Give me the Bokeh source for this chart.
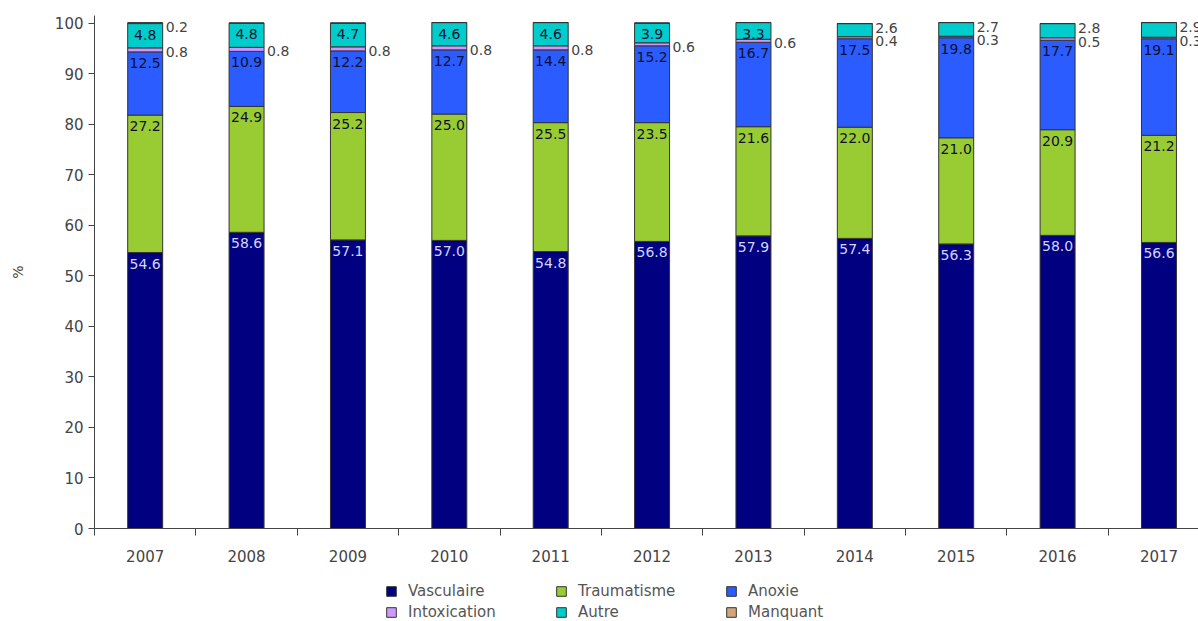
from bokeh.plotting import figure
from bokeh.layouts import column
from bokeh.models import (ColumnDataSource, Range1d, FixedTicker, Legend, LegendItem)
from bokeh.core.properties import value
from bokeh.embed import file_html
from bokeh.resources import INLINE

years = ["2007", "2008", "2009", "2010", "2011", "2012", "2013", "2014", "2015", "2016", "2017"]
vasculaire = [54.6, 58.6, 57.1, 57.0, 54.8, 56.8, 57.9, 57.4, 56.3, 58.0, 56.6]
traumatisme = [27.2, 24.9, 25.2, 25.0, 25.5, 23.5, 21.6, 22.0, 21.0, 20.9, 21.2]
anoxie = [12.5, 10.9, 12.2, 12.7, 14.4, 15.2, 16.7, 17.5, 19.8, 17.7, 19.1]
intoxication = [0.8, 0.8, 0.8, 0.8, 0.8, 0.6, 0.6, 0.4, 0.3, 0.5, 0.3]
autre = [4.8, 4.8, 4.7, 4.6, 4.6, 3.9, 3.3, 2.6, 2.7, 2.8, 2.9]
manquant = [0.2, 0.0, 0.0, 0.0, 0.0, 0.0, 0.0, 0.0, 0.0, 0.0, 0.0]

series_names = ["Vasculaire", "Traumatisme", "Anoxie", "Intoxication", "Autre", "Manquant"]
series_vals = [vasculaire, traumatisme, anoxie, intoxication, autre, manquant]
colors = ["#000080", "#99cc33", "#2a5cff", "#cc99ff", "#00cccc", "#d2a679"]

FONT = "DejaVu Sans"
BAR_W = 0.345

xs = [i + 0.5 for i in range(len(years))]
data = {"x": xs}
for n, v in zip(series_names, series_vals):
    data[n] = v
src = ColumnDataSource(data)

p = figure(width=1198, height=568, output_backend="svg", toolbar_location=None,
           x_range=Range1d(0, 10.89), y_range=Range1d(0, 101.5),
           min_border_left=94, min_border_right=0, min_border_top=15, min_border_bottom=40)
p.outline_line_color = None
p.grid.visible = False
p.background_fill_color = "white"

renderers = p.vbar_stack(series_names, x="x", width=BAR_W, source=src, color=colors,
                         line_color="#333333", line_width=1)

# labels
in_x, in_y, in_t, in_c = [], [], [], []
out_x, out_y, out_t = [], [], []
for i, xc in enumerate(xs):
    cum = 0.0
    for k, (n, v) in enumerate(zip(series_names, series_vals)):
        top = cum + v[i]
        if v[i] > 0:
            if k in (0, 1, 2) or (k == 4 and v[i] >= 3):
                in_x.append(xc); in_y.append(top); in_t.append(f"{v[i]:.1f}")
                in_c.append("#d4d4ff" if k == 0 else "#101030")
            else:
                out_x.append(xc + BAR_W / 2); out_y.append(top); out_t.append(f"{v[i]:.1f}")
        cum = top

p.text(x=in_x, y=in_y, text=in_t, text_color=in_c, text_align="center", text_baseline="top",
       y_offset=6, text_font=value(FONT), text_font_size="14px")
p.text(x=out_x, y=out_y, text=out_t, text_color="#444444", text_align="left", text_baseline="top",
       x_offset=3, y_offset=-1, text_font=value(FONT), text_font_size="14px")

# axes
xa = p.xaxis[0]
xa.ticker = FixedTicker(ticks=xs, minor_ticks=list(range(0, 12)))
xa.major_label_overrides = {x: y for x, y in zip(xs, years)}
xa.major_tick_out = 0
xa.major_tick_in = 0
xa.minor_tick_out = 7
xa.minor_tick_in = 0
xa.axis_line_color = "#444444"
xa.minor_tick_line_color = "#444444"
xa.major_label_text_font = FONT
xa.major_label_text_font_size = "15px"
xa.major_label_text_color = "#444444"
xa.major_label_standoff = 14

ya = p.yaxis[0]
ya.ticker = FixedTicker(ticks=list(range(0, 101, 10)))
ya.major_tick_out = 6
ya.major_tick_in = 0
ya.minor_tick_out = 0
ya.minor_tick_in = 0
ya.axis_line_color = "#444444"
ya.major_tick_line_color = "#444444"
ya.major_label_text_font = FONT
ya.major_label_text_font_size = "15px"
ya.major_label_text_color = "#444444"
ya.major_label_standoff = 5
ya.axis_label = "%"
ya.axis_label_text_font = FONT
ya.axis_label_text_font_style = "normal"
ya.axis_label_text_font_size = "14px"
ya.axis_label_text_color = "#444444"
ya.axis_label_standoff = 26

# legend figure below the chart (its frame is aligned with the chart's frame)
pl = figure(width=1198, height=53, output_backend="svg", toolbar_location=None,
            x_range=Range1d(0, 1), y_range=Range1d(0, 1),
            min_border_left=94, min_border_right=0, min_border_top=0, min_border_bottom=0)
pl.axis.visible = False
pl.grid.visible = False
pl.outline_line_color = None
leg_renderers = []
for c in colors:
    # single off-range dummy bar so that the legend swatch is drawn
    r = pl.vbar(x=[-10.0], top=[0.0], width=0.1, fill_color=c, line_color="#333333", line_width=1)
    leg_renderers.append(r)
items = [LegendItem(label=n, renderers=[r]) for n, r in zip(series_names, leg_renderers)]
legend = Legend(items=items, ncols=3, orientation="horizontal", location=(291, 0),
                glyph_width=12, glyph_height=12, label_standoff=11, spacing=3,
                label_width=144, label_height=18, padding=0, margin=0,
                label_text_font=FONT, label_text_font_size="15px", label_text_color="#555555",
                border_line_color=None, background_fill_alpha=0)
pl.add_layout(legend, "center")

layout = column(p, pl, spacing=0)
open("out.html", "w").write(file_html(layout, INLINE))
